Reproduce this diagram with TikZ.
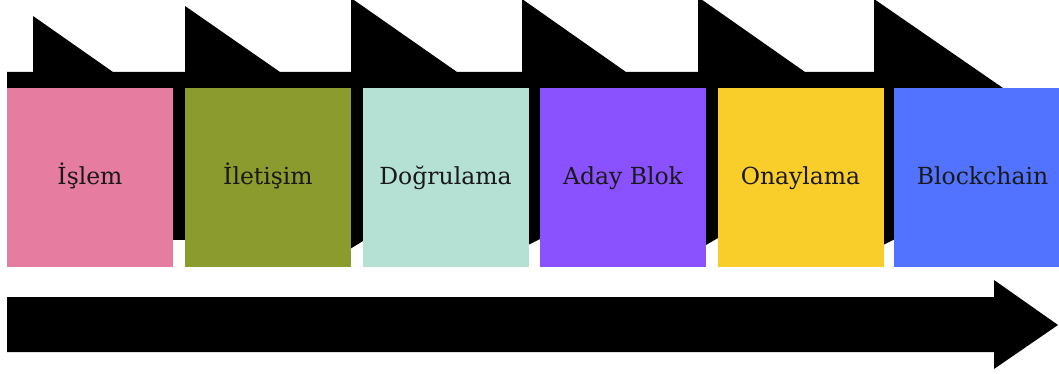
\documentclass[tikz,border=0pt]{standalone}
\usepackage{fontspec}
\setmainfont{DejaVu Serif}
\definecolor{cIslem}{HTML}{E67CA0}
\definecolor{cIletisim}{HTML}{8B9B2E}
\definecolor{cDogrulama}{HTML}{B5E1D4}
\definecolor{cAday}{HTML}{8A52FF}
\definecolor{cOnay}{HTML}{F9CE2B}
\definecolor{cChain}{HTML}{5273FF}
\tikzset{
  stagebox/.style={draw=none, inner sep=0pt, minimum height=179pt,
    minimum width=166pt, text height=18pt, text depth=3pt,
    font=\fontsize{23.5}{28}\selectfont, text=black!90},
  backing/.style={fill=black, draw=none},
}
\begin{document}
\begin{tikzpicture}[x=1pt, y=-1pt]
  \clip (0,0) rectangle (1059,374);
  \fill[white] (0,0) rectangle (1059,374);

  % black flag band behind the stages
  \fill[backing] (7,72) -- (33,72) -- (33,16) -- (113,72) -- (185,72) -- (185,6)
    -- (280,72) -- (351,72) -- (351,-2) -- (457,72) -- (522,72) -- (522,-1)
    -- (626,72) -- (698,72) -- (698,-3) -- (805,72) -- (874,72) -- (874,-1)
    -- (1003,88) -- (7,88) -- cycle;
  % dark slivers between the stages
  \fill[backing] (172,87) rectangle (186,240);
  \fill[backing] (350,87) -- (363,87) -- (363,241) -- (350,249) -- cycle;
  \fill[backing] (528,87) -- (540,87) -- (540,239) -- (528,245) -- cycle;
  \fill[backing] (706,87) -- (718,87) -- (718,238) -- (706,245) -- cycle;
  \fill[backing] (883,87) -- (895,87) -- (895,239) -- (883,245) -- cycle;

  % stages
  \node[stagebox, fill=cIslem]     (s1) at (90,177.5)    {İşlem};
  \node[stagebox, fill=cIletisim]  (s2) at (268,177.5)   {İletişim};
  \node[stagebox, fill=cDogrulama] (s3) at (445.5,177.5) {Doğrulama};
  \node[stagebox, fill=cAday]      (s4) at (623,177.5)   {Aday Blok};
  \node[stagebox, fill=cOnay]      (s5) at (800.5,177.5) {Onaylama};
  \node[stagebox, fill=cChain, minimum width=177pt] (s6) at (982.5,177.5) {Blockchain};

  % timeline arrow
  \fill[backing] (7,297) -- (994,297) -- (994,280) -- (1058,325) -- (994,369)
    -- (994,352) -- (7,352) -- cycle;
\end{tikzpicture}
\end{document}
